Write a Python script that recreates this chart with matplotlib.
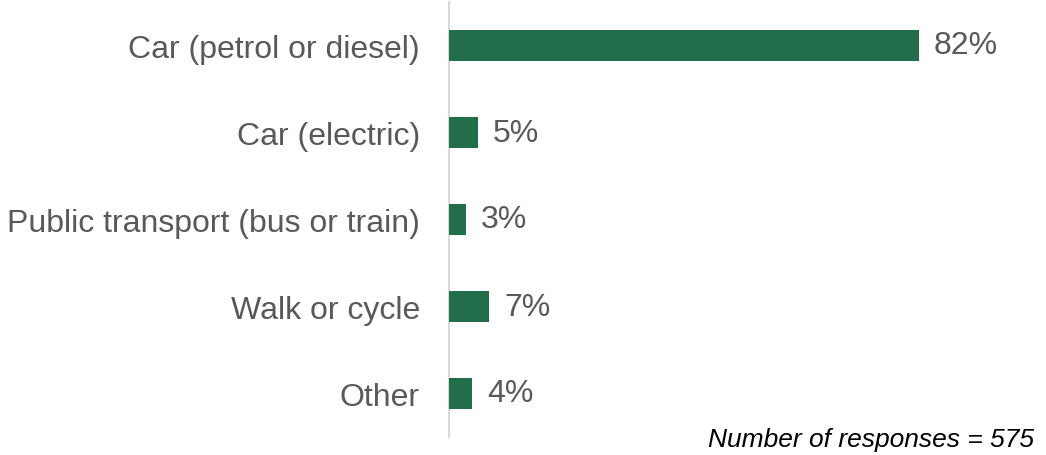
import matplotlib
matplotlib.use('Agg')
import matplotlib.pyplot as plt

GREEN = '#226E4B'
GREY = '#595959'
AXIS = '#D9D9D9'

categories = ['Car (petrol or diesel)', 'Car (electric)', 'Public transport (bus or train)',
              'Walk or cycle', 'Other']
values = [82, 5, 3, 7, 4]
note = 'Number of responses = 575'

plt.rcParams['font.family'] = ['Liberation Sans', 'DejaVu Sans']

W, H = 1046, 456
fig = plt.figure(figsize=(W / 100, H / 100), dpi=100)
fig.patch.set_facecolor('white')
ax = fig.add_axes([449 / W, 1 - 438 / H, 573 / W, 435 / H])

pos = list(range(len(categories)))
bars = ax.barh(pos, values, height=0.36, color=GREEN, edgecolor='none', zorder=3)

for bar, val in zip(bars, values):
    ax.text(bar.get_width() + 2.6, bar.get_y() + bar.get_height() / 2, f'{val}%',
            ha='left', va='center', fontsize=23, color=GREY)

ax.set_xlim(0, 100)
ax.set_ylim(len(categories) - 0.5, -0.5)
ax.set_yticks(pos)
ax.set_yticklabels(categories, fontsize=23, color=GREY)
ax.tick_params(axis='y', length=0, pad=21)
ax.set_xticks([])
for s in ['top', 'right', 'bottom']:
    ax.spines[s].set_visible(False)
ax.spines['left'].set_color(AXIS)
ax.spines['left'].set_linewidth(1.5)

fig.text(1034 / W, 1 - 447 / H, note, ha='right', va='baseline',
         fontsize=19, style='italic', color='black')

fig.savefig('out.png', dpi=100, facecolor='white')
